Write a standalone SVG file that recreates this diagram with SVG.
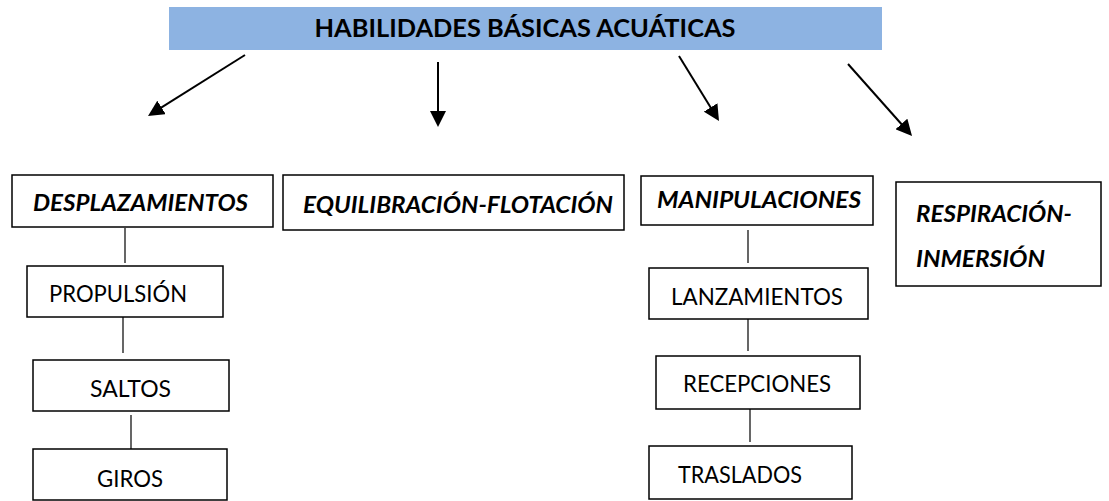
<svg xmlns="http://www.w3.org/2000/svg" width="1109" height="501" viewBox="0 0 1109 501">
<defs>
<marker id="ah" markerUnits="userSpaceOnUse" markerWidth="16" markerHeight="16" refX="8" refY="8" orient="auto">
<path d="M0,0 L16,8 L0,16 z" fill="#000"/>
</marker>
<style>
.box{fill:#fff;stroke:#000;stroke-width:1.5}
.t{font-family:Lato,"Open Sans","Liberation Sans",sans-serif;font-size:24px;fill:#000}
.bi{font-weight:bold;font-style:italic;font-size:23px}
.arr{stroke:#000;stroke-width:2;fill:none;marker-end:url(#ah)}
.ln{stroke:#000;stroke-width:1.2;fill:none}
</style>
</defs>
<rect width="1109" height="501" fill="#fff"/>
<g id="title">
<rect x="169" y="7" width="713" height="43" fill="#8DB3E2"/>
<text class="t" x="525" y="37" text-anchor="middle" font-weight="bold" font-size="23" textLength="421" lengthAdjust="spacingAndGlyphs">HABILIDADES BÁSICAS ACUÁTICAS</text>
</g>
<g id="connectors">
<line class="arr" x1="245" y1="55" x2="154.8" y2="111.7"/>
<line class="arr" x1="438" y1="62" x2="438" y2="119"/>
<line class="arr" x1="679" y1="56" x2="714.8" y2="114.2"/>
<line class="arr" x1="848" y1="64" x2="906.7" y2="130"/>
<line class="ln" x1="125" y1="228" x2="125" y2="263"/>
<line class="ln" x1="123" y1="317" x2="123" y2="353"/>
<line class="ln" x1="131" y1="415" x2="131" y2="449"/>
<line class="ln" x1="748" y1="230" x2="748" y2="263"/>
<line class="ln" x1="748" y1="319" x2="748" y2="351"/>
<line class="ln" x1="750" y1="409" x2="750" y2="442"/>
</g>
<g id="desplazamientos">
<rect class="box" x="12" y="175" width="261" height="52"/>
<text class="t bi" x="140.5" y="211" text-anchor="middle" textLength="215" lengthAdjust="spacingAndGlyphs">DESPLAZAMIENTOS</text>
</g>
<g id="equilibracion">
<rect class="box" x="283" y="175" width="341" height="55"/>
<text class="t bi" x="458" y="213" text-anchor="middle" textLength="310" lengthAdjust="spacingAndGlyphs">EQUILIBRACIÓN-FLOTACIÓN</text>
</g>
<g id="manipulaciones">
<rect class="box" x="641" y="176" width="232" height="49"/>
<text class="t bi" x="759" y="208" text-anchor="middle" textLength="204" lengthAdjust="spacingAndGlyphs">MANIPULACIONES</text>
</g>
<g id="respiracion">
<rect class="box" x="896" y="182" width="205" height="104"/>
<text class="t bi" x="916" y="222" textLength="156" lengthAdjust="spacingAndGlyphs">RESPIRACIÓN-</text>
<text class="t bi" x="916" y="267" textLength="129" lengthAdjust="spacingAndGlyphs">INMERSIÓN</text>
</g>
<g id="propulsion">
<rect class="box" x="27" y="266" width="196" height="51"/>
<text class="t" x="49" y="302" textLength="138" lengthAdjust="spacingAndGlyphs">PROPULSIÓN</text>
</g>
<g id="saltos">
<rect class="box" x="33" y="360" width="196" height="51"/>
<text class="t" x="90" y="397" textLength="81" lengthAdjust="spacingAndGlyphs">SALTOS</text>
</g>
<g id="giros">
<rect class="box" x="33" y="449" width="194" height="51"/>
<text class="t" x="97" y="487" textLength="66" lengthAdjust="spacingAndGlyphs">GIROS</text>
</g>
<g id="lanzamientos">
<rect class="box" x="649" y="268" width="219" height="51"/>
<text class="t" x="671" y="305" textLength="172" lengthAdjust="spacingAndGlyphs">LANZAMIENTOS</text>
</g>
<g id="recepciones">
<rect class="box" x="656" y="356" width="204" height="53"/>
<text class="t" x="683" y="392" textLength="148" lengthAdjust="spacingAndGlyphs">RECEPCIONES</text>
</g>
<g id="traslados">
<rect class="box" x="649" y="446" width="203" height="53"/>
<text class="t" x="678" y="483" textLength="124" lengthAdjust="spacingAndGlyphs">TRASLADOS</text>
</g>
</svg>
